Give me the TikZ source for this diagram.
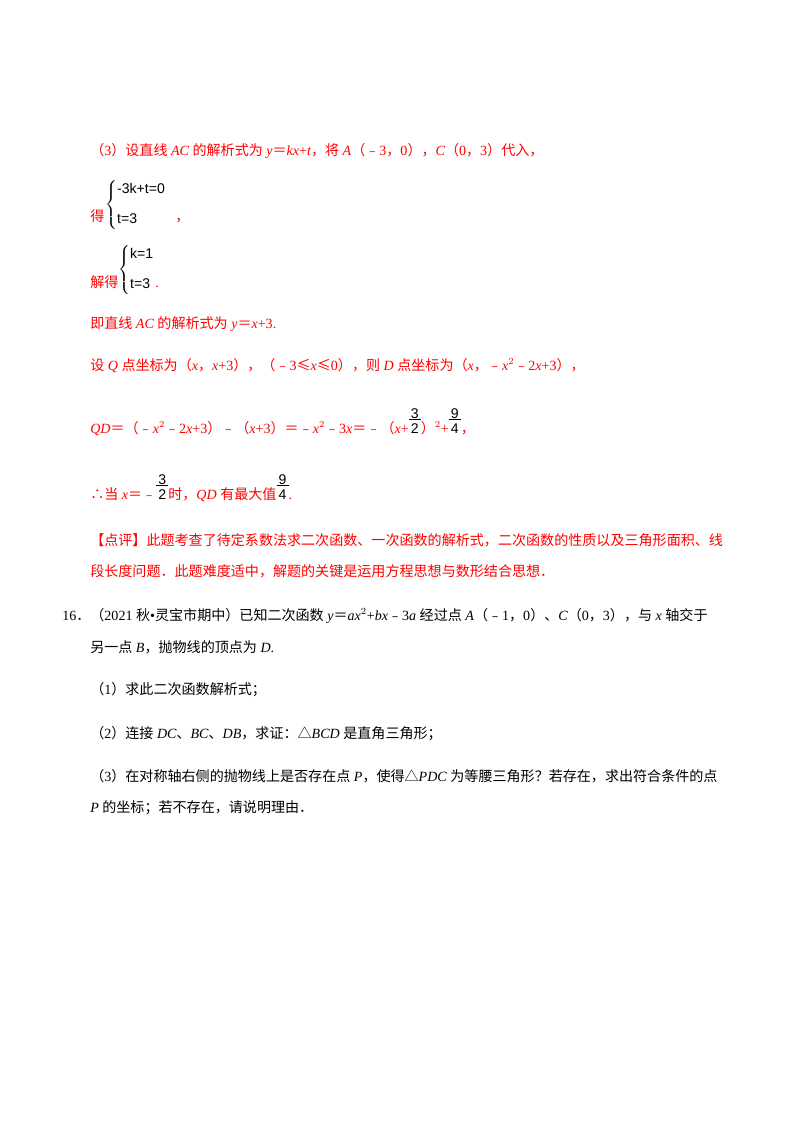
\documentclass[tikz,border=0pt]{standalone}
\usepackage{fontspec}
\setmainfont{Liberation Serif}
\setsansfont{Liberation Sans}
\newfontfamily\cjk{Noto Sans CJK SC}
\XeTeXinterchartokenstate=1
\newXeTeXintercharclass\CJKcls
\count255="4E00
\loop\ifnum\count255<"9FFF \XeTeXcharclass\count255=\CJKcls \advance\count255 by 1 \repeat
\count255="FE30
\loop\ifnum\count255<"FFEF \XeTeXcharclass\count255=\CJKcls \advance\count255 by 1 \repeat
\count255="3000
\loop\ifnum\count255<"303F \XeTeXcharclass\count255=\CJKcls \advance\count255 by 1 \repeat
\XeTeXcharclass"2234=\CJKcls
\XeTeXcharclass"25B3=\CJKcls
\XeTeXcharclass"2264=\CJKcls
\XeTeXcharclass"2265=\CJKcls
\XeTeXinterchartoks 0 \CJKcls = {\cjk}
\XeTeXinterchartoks 4095 \CJKcls = {\cjk}
\XeTeXinterchartoks \CJKcls 0 = {\rmfamily}
\XeTeXinterchartoks \CJKcls 4095 = {\rmfamily}
\newcommand\fr[2]{{\color{black}\sffamily\shortstack{#1\\[-3pt]\rule[2pt]{9pt}{0.5pt}\\[-2pt]#2}}}
\newcommand\vi[1]{{\rmfamily\itshape #1}}
\begin{document}
\begin{tikzpicture}[x=0.02625cm,y=-0.02625cm,
  t/.style={anchor=base west,inner sep=0pt,font=\fontsize{10.5}{12}\selectfont\rmfamily},
  r/.style={t,text=red},
  br/.style={anchor=west,inner sep=0pt,font=\fontsize{10.5}{13}\selectfont\sffamily}]
\useasboundingbox (0,0) rectangle (800,1132);
\node[r] (l1) at (90,155) {（3）设直线 \vi{AC} 的解析式为 \vi{y}＝\vi{kx}+\vi{t}，将 \vi{A}（﹣3，0），\vi{C}（0，3）代入，};
\node[r] (d1) at (90,221) {得};
\node[br] (b1) at (105,205) {$\left\{\begin{array}{@{}l}\textsf{-3k+t=0}\\[9pt]\textsf{t=3}\end{array}\right.$};
\node[r] (c1) at (175,221) {，};
\node[r] (d2) at (90,287) {解得};
\node[br] (b2) at (118,270) {$\left\{\begin{array}{@{}l}\textsf{k=1}\\[9pt]\textsf{t=3}\end{array}\right.$};
\node[r] (c2) at (155,287) {.};
\node[r] (l4) at (90,328) {即直线 \vi{AC} 的解析式为 \vi{y}＝\vi{x}+3.};
\node[r] (l5) at (90,370) {设 \vi{Q} 点坐标为（\vi{x}，\vi{x}+3），（﹣3≤\vi{x}≤0），则 \vi{D} 点坐标为（\vi{x}，﹣\vi{x}$^2$﹣2\vi{x}+3），};
\node[r] (l6) at (90,433) {\vi{QD}＝（﹣\vi{x}$^2$﹣2\vi{x}+3）﹣（\vi{x}+3）＝﹣\vi{x}$^2$﹣3\vi{x}＝﹣（\vi{x}+\fr{3}{2}）$^2$+\fr{9}{4}，};
\node[r] (l7) at (90,499) {∴当 \vi{x}＝﹣\fr{3}{2}时，\vi{QD} 有最大值\fr{9}{4}.};
\node[r] (l8) at (90,545) {【点评】此题考查了待定系数法求二次函数、一次函数的解析式，二次函数的性质以及三角形面积、线};
\node[r] (l9) at (90,576) {段长度问题．此题难度适中，解题的关键是运用方程思想与数形结合思想．};
\node[t] (q1) at (62,620) {16．（2021 秋•灵宝市期中）已知二次函数 \vi{y}＝\vi{ax}$^2$+\vi{bx}﹣3\vi{a} 经过点 \vi{A}（﹣1，0）、\vi{C}（0，3），与 \vi{x} 轴交于};
\node[t] (q2) at (90,652) {另一点 \vi{B}，抛物线的顶点为 \vi{D}.};
\node[t] (q3) at (90,694) {（1）求此二次函数解析式；};
\node[t] (q4) at (90,738) {（2）连接 \vi{DC}、\vi{BC}、\vi{DB}，求证：△\vi{BCD} 是直角三角形；};
\node[t] (q5) at (90,781) {（3）在对称轴右侧的抛物线上是否存在点 \vi{P}，使得△\vi{PDC} 为等腰三角形？若存在，求出符合条件的点};
\node[t] (q6) at (90,812) {\vi{P} 的坐标；若不存在，请说明理由．};
\end{tikzpicture}
\end{document}
